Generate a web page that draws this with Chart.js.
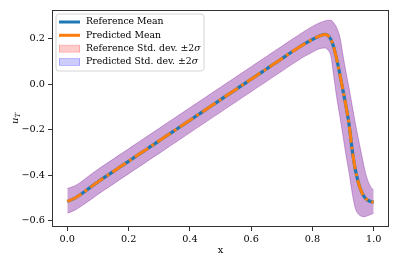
<!DOCTYPE html>
<html>
<head>
<meta charset="utf-8">
<script src="https://cdn.jsdelivr.net/npm/chart.js@4.4.0/dist/chart.umd.min.js"></script>
<style>
  html, body { margin: 0; padding: 0; background: #fff; }
  #wrap { width: 399px; height: 266px; position: relative; }
</style>
</head>
<body>
<div id="wrap"><canvas id="chart"></canvas></div>
<script>
// values
const xValues = [0, 0.025, 0.05, 0.075, 0.1, 0.125, 0.15, 0.175, 0.2, 0.225, 0.25, 0.275, 0.3, 0.325, 0.35, 0.375, 0.4, 0.425, 0.45, 0.475, 0.5, 0.525, 0.55, 0.575, 0.6, 0.625, 0.65, 0.675, 0.7, 0.725, 0.75, 0.775, 0.8, 0.82, 0.84, 0.85, 0.86, 0.87, 0.88, 0.89, 0.9, 0.91, 0.92, 0.93, 0.94, 0.95, 0.96, 0.97, 0.98, 0.99, 1.0];

const refMean = [-0.515, -0.5, -0.478, -0.453, -0.429, -0.406, -0.384, -0.361, -0.339, -0.316, -0.294, -0.271, -0.249, -0.226, -0.204, -0.181, -0.159, -0.136, -0.114, -0.091, -0.069, -0.046, -0.024, -0.001, 0.021, 0.044, 0.066, 0.089, 0.111, 0.134, 0.156, 0.177, 0.196, 0.209, 0.218, 0.214, 0.196, 0.16, 0.105, 0.04, -0.03, -0.1, -0.18, -0.29, -0.375, -0.432, -0.472, -0.496, -0.509, -0.515, -0.518];

const predMean = [-0.515, -0.5, -0.478, -0.453, -0.429, -0.406, -0.384, -0.361, -0.339, -0.316, -0.294, -0.271, -0.249, -0.226, -0.204, -0.181, -0.159, -0.136, -0.114, -0.091, -0.069, -0.046, -0.024, -0.001, 0.021, 0.044, 0.066, 0.089, 0.111, 0.134, 0.156, 0.177, 0.196, 0.209, 0.218, 0.214, 0.196, 0.16, 0.105, 0.04, -0.03, -0.1, -0.18, -0.29, -0.375, -0.432, -0.472, -0.496, -0.509, -0.515, -0.518];

// mean +/- 2 sigma
const refUpper = [-0.458, -0.446, -0.424, -0.398, -0.374, -0.351, -0.329, -0.306, -0.284, -0.261, -0.239, -0.216, -0.194, -0.171, -0.149, -0.126, -0.104, -0.081, -0.059, -0.036, -0.014, 0.009, 0.031, 0.054, 0.076, 0.099, 0.121, 0.144, 0.166, 0.189, 0.211, 0.233, 0.253, 0.267, 0.277, 0.28, 0.28, 0.268, 0.245, 0.205, 0.125, 0.05, -0.02, -0.095, -0.17, -0.24, -0.305, -0.37, -0.42, -0.45, -0.465];
const refLower = [-0.567, -0.553, -0.532, -0.508, -0.484, -0.461, -0.439, -0.416, -0.394, -0.371, -0.349, -0.326, -0.304, -0.281, -0.259, -0.236, -0.214, -0.191, -0.169, -0.146, -0.124, -0.101, -0.079, -0.056, -0.034, -0.011, 0.011, 0.034, 0.056, 0.079, 0.101, 0.122, 0.14, 0.154, 0.158, 0.15, 0.125, 0.03, -0.065, -0.145, -0.23, -0.315, -0.392, -0.48, -0.545, -0.57, -0.58, -0.582, -0.578, -0.572, -0.567];

const predUpper = [-0.458, -0.446, -0.424, -0.398, -0.374, -0.351, -0.329, -0.306, -0.284, -0.261, -0.239, -0.216, -0.194, -0.171, -0.149, -0.126, -0.104, -0.081, -0.059, -0.036, -0.014, 0.009, 0.031, 0.054, 0.076, 0.099, 0.121, 0.144, 0.166, 0.189, 0.211, 0.233, 0.253, 0.267, 0.277, 0.28, 0.28, 0.268, 0.245, 0.205, 0.125, 0.05, -0.02, -0.095, -0.17, -0.24, -0.305, -0.37, -0.42, -0.45, -0.465];
const predLower = [-0.567, -0.553, -0.532, -0.508, -0.484, -0.461, -0.439, -0.416, -0.394, -0.371, -0.349, -0.326, -0.304, -0.281, -0.259, -0.236, -0.214, -0.191, -0.169, -0.146, -0.124, -0.101, -0.079, -0.056, -0.034, -0.011, 0.011, 0.034, 0.056, 0.079, 0.101, 0.122, 0.14, 0.154, 0.158, 0.15, 0.125, 0.03, -0.065, -0.145, -0.23, -0.315, -0.392, -0.48, -0.545, -0.57, -0.58, -0.582, -0.578, -0.572, -0.567];

const xTicks = [0, 0.2, 0.4, 0.6, 0.8, 1.0];
const yTicks = [-0.6, -0.4, -0.2, 0.0, 0.2];

const seriesNames = ["Reference Mean", "Predicted Mean", "Reference Std. dev. \u00b12", "Predicted Std. dev. \u00b12"];

const SERIF = '"DejaVu Serif", serif';
const BLUE = "#1f77b4";
const ORANGE = "#ff7f0e";
const RED_FILL = "rgba(255,0,0,0.2)";
const BLUE_FILL = "rgba(0,0,255,0.2)";

function toPoints(ys) {
  return xValues.map((x, i) => ({ x: x, y: ys[i] }));
}

function tickText(v) {
  return v.toFixed(1).replace("-", "\u2212");
}

// frame, axis titles and the legend inside the plot
const decorations = {
  id: "decorations",
  afterDraw(chart) {
    const ctx = chart.ctx;
    const area = chart.chartArea;
    ctx.save();

    ctx.strokeStyle = "#333";
    ctx.lineWidth = 1;
    ctx.strokeRect(Math.round(area.left) + 0.5, Math.round(area.top) + 0.5,
      Math.round(area.right - area.left) - 1, Math.round(area.bottom - area.top) - 1);

    // x title
    ctx.fillStyle = "#000";
    ctx.font = "9.8px " + SERIF;
    ctx.textAlign = "center";
    ctx.textBaseline = "middle";
    ctx.fillText("x", (area.left + area.right) / 2, 250);

    // y title u_T
    ctx.save();
    ctx.translate(15, (area.top + area.bottom) / 2);
    ctx.rotate(-Math.PI / 2);
    ctx.font = "italic 10px " + SERIF;
    ctx.textAlign = "right";
    ctx.fillText("u", 1, 0);
    ctx.font = "italic 7px " + SERIF;
    ctx.textAlign = "left";
    ctx.fillText("T", 1, 3);
    ctx.restore();

    // legend box
    const bx = 56, by = 14, bw = 148, bh = 57, r = 3;
    ctx.beginPath();
    ctx.moveTo(bx + r, by);
    ctx.arcTo(bx + bw, by, bx + bw, by + bh, r);
    ctx.arcTo(bx + bw, by + bh, bx, by + bh, r);
    ctx.arcTo(bx, by + bh, bx, by, r);
    ctx.arcTo(bx, by, bx + bw, by, r);
    ctx.closePath();
    ctx.fillStyle = "rgba(255,255,255,0.8)";
    ctx.fill();
    ctx.strokeStyle = "#d4d4d4";
    ctx.lineWidth = 1;
    ctx.stroke();

    const rows = [22, 35.3, 48.7, 62];
    const hx0 = 59, hx1 = 80, tx = 86;

    ctx.lineCap = "butt";
    ctx.lineWidth = 3;
    ctx.strokeStyle = BLUE;
    ctx.beginPath(); ctx.moveTo(hx0, rows[0]); ctx.lineTo(hx1, rows[0]); ctx.stroke();
    ctx.strokeStyle = ORANGE;
    ctx.beginPath(); ctx.moveTo(hx0, rows[1]); ctx.lineTo(hx1, rows[1]); ctx.stroke();

    ctx.lineWidth = 1;
    ctx.fillStyle = RED_FILL;
    ctx.strokeStyle = RED_FILL;
    ctx.fillRect(hx0, rows[2] - 3.5, hx1 - hx0, 7);
    ctx.strokeRect(hx0 + 0.5, rows[2] - 3.5, hx1 - hx0 - 1, 7);
    ctx.fillStyle = BLUE_FILL;
    ctx.strokeStyle = BLUE_FILL;
    ctx.fillRect(hx0, rows[3] - 3.5, hx1 - hx0, 7);
    ctx.strokeRect(hx0 + 0.5, rows[3] - 3.5, hx1 - hx0 - 1, 7);

    ctx.fillStyle = "#000";
    ctx.textAlign = "left";
    ctx.textBaseline = "middle";
    seriesNames.forEach((name, i) => {
      ctx.font = "9.3px " + SERIF;
      ctx.fillText(name, tx, rows[i]);
      if (i >= 2) {
        const w = ctx.measureText(name).width;
        ctx.font = "italic 9.3px " + SERIF;
        ctx.fillText("\u03c3", tx + w, rows[i]);
      }
    });

    ctx.restore();
  },
};

const bandStyle = (color) => ({
  borderColor: color,
  borderWidth: 0.8,
  pointRadius: 0,
  cubicInterpolationMode: "monotone",
});

new Chart(document.getElementById("chart"), {
  type: "line",
  data: {
    datasets: [
      Object.assign({ label: "refLower", data: toPoints(refLower), fill: false, order: 4 }, bandStyle(RED_FILL)),
      Object.assign({ label: "refUpper", data: toPoints(refUpper), fill: "-1", backgroundColor: RED_FILL, order: 4 }, bandStyle(RED_FILL)),
      Object.assign({ label: "predLower", data: toPoints(predLower), fill: false, order: 3 }, bandStyle(BLUE_FILL)),
      Object.assign({ label: "predUpper", data: toPoints(predUpper), fill: "-1", backgroundColor: BLUE_FILL, order: 3 }, bandStyle(BLUE_FILL)),
      {
        label: seriesNames[0],
        data: toPoints(refMean),
        borderColor: BLUE,
        borderWidth: 3.2,
        pointRadius: 0,
        fill: false,
        cubicInterpolationMode: "monotone",
        order: 2,
      },
      {
        label: seriesNames[1],
        data: toPoints(predMean),
        borderColor: ORANGE,
        borderWidth: 3,
        borderDash: [16, 4, 3, 4],
        borderCapStyle: "butt",
        pointRadius: 0,
        fill: false,
        cubicInterpolationMode: "monotone",
        order: 1,
      },
    ],
  },
  options: {
    responsive: true,
    maintainAspectRatio: false,
    animation: false,
    devicePixelRatio: 1,
    layout: { padding: { top: 10, right: 10, left: 0, bottom: 0 } },
    plugins: {
      legend: { display: false },
      tooltip: { enabled: false },
    },
    scales: {
      x: {
        type: "linear",
        min: -0.05,
        max: 1.05,
        afterBuildTicks: (scale) => { scale.ticks = xTicks.map((v) => ({ value: v })); },
        afterFit: (scale) => { scale.height = 39; },
        grid: { drawOnChartArea: false, drawTicks: true, tickLength: 4, color: "#333", lineWidth: 1 },
        border: { display: false },
        ticks: {
          callback: (v) => tickText(v),
          font: { family: SERIF, size: 9.7 },
          color: "#000",
          padding: 3,
          maxRotation: 0,
          autoSkip: false,
        },
      },
      y: {
        type: "linear",
        min: -0.627,
        max: 0.325,
        afterBuildTicks: (scale) => { scale.ticks = yTicks.map((v) => ({ value: v })); },
        afterFit: (scale) => { scale.width = 52; },
        grid: { drawOnChartArea: false, drawTicks: true, tickLength: 4, color: "#333", lineWidth: 1 },
        border: { display: false },
        ticks: {
          callback: (v) => tickText(v),
          font: { family: SERIF, size: 9.7 },
          color: "#000",
          padding: 3,
          autoSkip: false,
        },
      },
    },
  },
  plugins: [decorations],
});
</script>
</body>
</html>
